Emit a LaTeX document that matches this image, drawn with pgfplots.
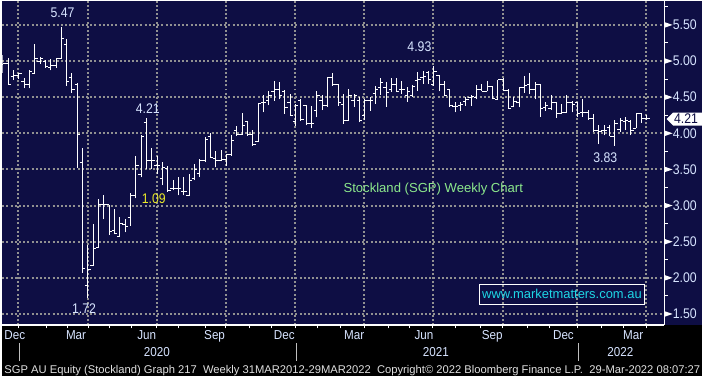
\documentclass[border=0pt]{standalone}
\usepackage{pgfplots}
\pgfplotsset{compat=1.18}
\usepackage{pgfplotstable}
\usepackage{graphicx}
\usepackage{fontspec}
\setmainfont{Liberation Sans}
\definecolor{bbnavy}{RGB}{14,14,68}
\definecolor{gridgray}{RGB}{145,145,145}
\definecolor{lbl}{RGB}{215,228,255}
\definecolor{stockgreen}{RGB}{140,232,140}
\definecolor{urlcyan}{RGB}{30,215,230}
\definecolor{hiyellow}{RGB}{235,235,40}
\pgfdeclareplotmark{otick}{\pgfpathmoveto{\pgfqpoint{-2.8pt}{0pt}}\pgfpathlineto{\pgfqpoint{0pt}{0pt}}\pgfusepathqstroke}
\pgfdeclareplotmark{ctick}{\pgfpathmoveto{\pgfqpoint{0pt}{0pt}}\pgfpathlineto{\pgfqpoint{2.8pt}{0pt}}\pgfusepathqstroke}
\pgfdeclareplotmark{nomark}{}
\pgfplotstableread{
i o h l c
0 4.95 5.08 4.84 4.97
1 4.97 5.04 4.67 4.68
2 4.78 4.88 4.74 4.80
3 4.80 4.84 4.75 4.83
4 4.72 4.77 4.62 4.67
5 4.67 4.87 4.62 4.85
6 4.83 5.23 4.82 5.03
7 4.99 5.06 4.96 5.04
8 5.00 5.02 4.91 4.93
9 4.91 5.03 4.87 4.94
10 4.94 5.04 4.91 5.03
11 5.04 5.47 5.03 5.31
12 5.23 5.31 4.66 4.71
13 4.77 4.83 4.56 4.60
14 4.67 4.70 3.52 3.99
15 3.60 3.80 2.07 2.13
16 1.90 2.46 1.72 2.12
17 2.17 2.75 2.17 2.40
18 2.42 3.09 2.42 3.01
19 3.01 3.14 2.81 3.01
20 3.01 3.01 2.59 2.64
21 2.65 2.95 2.60 2.62
22 2.57 2.84 2.57 2.75
23 2.74 2.81 2.63 2.71
24 2.84 3.17 2.72 3.14
25 3.14 3.69 3.10 3.56
26 3.43 3.98 3.39 3.95
27 4.15 4.21 3.50 3.62
28 3.62 3.80 3.50 3.62
29 3.56 3.69 3.44 3.55
30 3.37 3.60 3.28 3.52
31 3.51 3.55 3.19 3.21
32 3.23 3.36 3.21 3.23
33 3.23 3.39 3.14 3.23
34 3.19 3.39 3.14 3.19
35 3.14 3.44 3.13 3.35
36 3.37 3.57 3.35 3.50
37 3.44 3.64 3.39 3.62
38 3.62 3.95 3.60 3.92
39 3.95 4.00 3.66 3.66
40 3.65 3.75 3.53 3.62
41 3.63 3.77 3.61 3.64
42 3.64 3.72 3.55 3.71
43 3.71 3.97 3.69 3.90
44 4.04 4.10 3.96 3.99
45 3.99 4.28 3.98 4.11
46 4.16 4.17 3.96 3.99
47 3.99 4.05 3.83 3.84
48 3.89 4.42 3.88 4.41
49 4.43 4.53 4.29 4.43
50 4.46 4.58 4.39 4.52
51 4.58 4.73 4.45 4.61
52 4.61 4.71 4.47 4.53
53 4.58 4.60 4.27 4.36
54 4.43 4.54 4.24 4.24
55 4.16 4.40 4.10 4.38
56 4.45 4.48 4.17 4.19
57 4.38 4.39 4.11 4.14
58 4.14 4.38 4.07 4.14
59 4.32 4.58 4.22 4.52
60 4.46 4.53 4.32 4.38
61 4.38 4.78 4.37 4.77
62 4.77 4.83 4.66 4.68
63 4.67 4.68 4.38 4.43
64 4.40 4.54 4.13 4.18
65 4.18 4.61 4.17 4.53
66 4.45 4.55 4.37 4.52
67 4.45 4.50 4.15 4.18
68 4.25 4.47 4.18 4.46
69 4.46 4.50 4.31 4.45
70 4.55 4.66 4.41 4.60
71 4.63 4.76 4.53 4.70
72 4.63 4.71 4.37 4.57
73 4.60 4.76 4.57 4.68
74 4.68 4.76 4.57 4.58
75 4.61 4.73 4.54 4.61
76 4.53 4.64 4.44 4.58
77 4.53 4.67 4.50 4.65
78 4.73 4.85 4.59 4.74
79 4.77 4.86 4.68 4.78
80 4.84 4.86 4.68 4.74
81 4.67 4.93 4.66 4.86
82 4.80 4.81 4.58 4.68
83 4.68 4.73 4.51 4.53
84 4.60 4.61 4.36 4.39
85 4.37 4.43 4.29 4.37
86 4.38 4.44 4.31 4.40
87 4.44 4.50 4.38 4.47
88 4.50 4.53 4.38 4.51
89 4.50 4.67 4.47 4.60
90 4.60 4.68 4.58 4.58
91 4.58 4.73 4.58 4.65
92 4.65 4.65 4.47 4.48
93 4.47 4.74 4.46 4.74
94 4.74 4.76 4.58 4.59
95 4.59 4.61 4.34 4.35
96 4.37 4.50 4.36 4.44
97 4.43 4.64 4.36 4.64
98 4.64 4.79 4.56 4.66
99 4.68 4.83 4.54 4.60
100 4.60 4.71 4.47 4.68
101 4.68 4.68 4.23 4.35
102 4.36 4.43 4.31 4.38
103 4.34 4.53 4.32 4.43
104 4.43 4.44 4.21 4.28
105 4.28 4.40 4.27 4.29
106 4.29 4.53 4.28 4.43
107 4.43 4.45 4.29 4.40
108 4.43 4.44 4.23 4.27
109 4.29 4.47 4.23 4.29
110 4.29 4.32 4.19 4.21
111 4.21 4.27 4.02 4.04
112 4.04 4.11 3.85 4.03
113 4.04 4.11 3.97 4.04
114 4.08 4.12 3.96 3.96
115 3.96 4.18 3.83 4.13
116 4.05 4.21 4.02 4.18
117 4.17 4.23 4.05 4.18
118 4.17 4.19 3.97 4.04
119 4.07 4.28 4.07 4.27
120 4.27 4.27 4.14 4.20
121 4.21 4.25 4.19 4.21
}\sgp
\newcommand{\lab}[1]{\scalebox{0.88}[1]{\fontsize{14}{14}\selectfont #1}}
\newcommand{\mlab}[1]{\scalebox{0.9}[1]{\fontsize{13}{13}\selectfont #1}}
\begin{document}
\begin{tikzpicture}
\begin{scope}[x=1pt,y=1pt]
\path[use as bounding box] (0,0) rectangle (702,376);
\fill[black] (0,0) rectangle (702,376);
\fill[bbnavy] (0,51) rectangle (702,376);
\end{scope}
\begin{axis}[
  at={(0pt,51pt)}, anchor=south west,
  scale only axis, width=664pt, height=325pt,
  xmin=-0.094, xmax=124.25, ymin=1.348, ymax=5.831,
  axis x line=bottom, axis y line=right,
  axis line style={white, line width=1.2pt, -},
  xtick={2.90,16.01,28.93,41.85,54.96,67.88,80.80,93.91,107.96,120.88},
  xticklabels={},
  minor xtick={2.90,8.15,12.08,16.01,20.13,24.25,28.93,33.05,38.11,41.85,46.35,50.47,54.96,59.08,63.39,67.88,72.38,76.50,80.80,85.11,89.79,93.91,98.60,102.72,107.96,112.45,116.57,120.88},
  ytick={1.5,2,...,5.5},
  yticklabels={},
  minor ytick={1.75,2.25,...,5.75},
  xmajorgrids, ymajorgrids,
  major grid style={gridgray, line width=2pt, dash pattern=on 2pt off 2.2pt},
  major tick length=0pt, minor tick length=3.5pt,
  tick align=outside,
  minor tick style={white, line width=1pt},
]
\addplot[white, only marks, mark=nomark,
  error bars/.cd, y dir=plus, y explicit, error mark=none,
  error bar style={white, line width=1pt}]
  table[x=i, y=l, y error plus expr=\thisrow{h}-\thisrow{l}] {\sgp};
\addplot[white, only marks, mark=otick, mark options={line width=1pt}] table[x=i, y=o] {\sgp};
\addplot[white, only marks, mark=ctick, mark options={line width=1pt}] table[x=i, y=c] {\sgp};
\end{axis}
\begin{scope}[x=1pt,y=1pt]
% right axis tick labels
\foreach \p/\t in {1.5/1.50,2/2.00,2.5/2.50,3/3.00,3.5/3.50,4/4.00,4.5/4.50,5/5.00,5.5/5.50}{
  \pgfmathsetmacro{\yy}{352-(5.5-\p)*72.5}
  \fill[white] (665,\yy+2.6) -- (672.5,\yy) -- (665,\yy-2.6) -- cycle;
  \node[anchor=west, inner sep=0pt, text=lbl] at (672.5,\yy) {\lab{\t}};
}
% price tag
\fill[white] (666.5,257.5) -- (673,264) -- (702,264) -- (702,251) -- (673,251) -- cycle;
\node[inner sep=0pt, text=bbnavy] at (686,257.5) {\lab{4.21}};
% month labels
\foreach \x/\m in {12.5/Dec,74/Mar,145/Jun,213/Sep,283/Dec,353/Mar,423/Jun,491.5/Sep,563/Dec,633/Mar}{
  \node[anchor=base, inner sep=0pt, text=lbl] at (\x,36.7) {\mlab{\m}};
}
\foreach \x/\m in {155/2020,435/2021,620/2022}{
  \node[anchor=base, inner sep=0pt, text=lbl] at (\x,19.3) {\mlab{\m}};
}
\foreach \x in {17,295,578}{
  \draw[gray!50!white, line width=0.8pt] (\x,15) -- (\x,33);
}
% footer
\node[anchor=base west, inner sep=0pt, text=white!88!black] at (2,2.7) {\resizebox{698pt}{!}{\fontsize{10}{10}\selectfont SGP AU Equity (Stockland) Graph 217\ \ Weekly 31MAR2012-29MAR2022\ \ Copyright© 2022 Bloomberg Finance L.P.\ \ 29-Mar-2022 08:07:27}};
% annotations
\node[inner sep=0pt, text=lbl] at (60.5,364) {\lab{5.47}};
\node[inner sep=0pt, text=lbl] at (146,268.5) {\lab{4.21}};
\node[inner sep=0pt, text=lbl] at (82,67.5) {\lab{1.72}};
\node[inner sep=0pt, text=hiyellow] at (152,177.5) {\lab{1.09}};
\node[inner sep=0pt, text=lbl] at (418.5,330) {\lab{4.93}};
\node[inner sep=0pt, text=lbl] at (605,218.5) {\lab{3.83}};
\node[inner sep=0pt, text=stockgreen] at (432.4,187) {\resizebox{180pt}{!}{\fontsize{14}{14}\selectfont Stockland (SGP) Weekly Chart}};
\draw[white, line width=1pt] (479,72) rectangle (644,92);
\node[inner sep=0pt, text=urlcyan] at (561.5,82) {\resizebox{160pt}{!}{\fontsize{14}{14}\selectfont www.marketmatters.com.au}};
\end{scope}
\end{tikzpicture}
\end{document}
